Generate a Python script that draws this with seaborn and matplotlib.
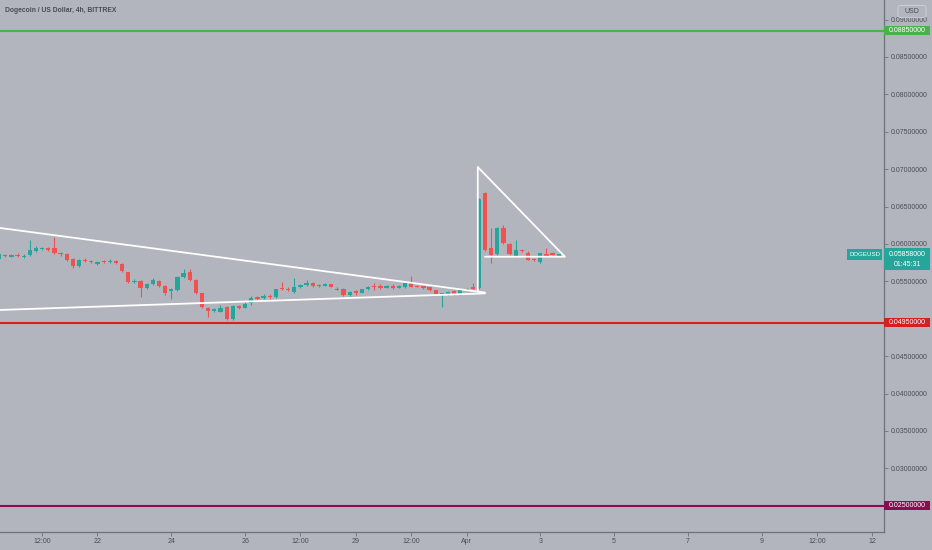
import numpy as np
import pandas as pd
import matplotlib
matplotlib.use("Agg")
import matplotlib.pyplot as plt
import matplotlib.transforms as mtrans
from matplotlib.patches import Rectangle, FancyBboxPatch
import seaborn as sns

# ---------------- data ----------------
title = "Dogecoin / US Dollar, 4h, BITTREX"
first_candle = "2021-03-19 08:00"
base_date = pd.Timestamp("2021-03-19 00:00")

opens = [0.05799, 0.05850, 0.05835, 0.05848, 0.05825, 0.05853, 0.05906, 0.05935, 0.05940, 0.05942,
         0.05880, 0.05862, 0.05795, 0.05710, 0.05790, 0.05775, 0.05745, 0.05770, 0.05760, 0.05773,
         0.05729, 0.05621, 0.05490, 0.05505, 0.05416, 0.05461, 0.05505, 0.05438, 0.05370, 0.05384,
         0.05563, 0.05621, 0.05519, 0.05340, 0.05140, 0.05110, 0.05096, 0.05154, 0.04995, 0.05172,
         0.05145, 0.05207, 0.05280, 0.05280, 0.05300, 0.05287, 0.05410, 0.05400, 0.05363, 0.05429,
         0.05452, 0.05474, 0.05450, 0.05450, 0.05460, 0.05400, 0.05394, 0.05318, 0.05360, 0.05349,
         0.05394, 0.05440, 0.05430, 0.05420, 0.05430, 0.05420, 0.05421, 0.05483, 0.05440, 0.05430,
         0.05421, 0.05385, 0.05330, 0.05332, 0.05372, 0.05332, 0.05390, 0.05420,
         0.05408,
         0.06678, 0.05942, 0.05866, 0.06218, 0.06000, 0.05840, 0.05920, 0.05884, 0.05800, 0.05755,
         0.05862, 0.05870, 0.05850]
highs = [0.05880, 0.05870, 0.05860, 0.05880, 0.05860, 0.06050, 0.05970, 0.05960, 0.05960, 0.06100,
         0.05890, 0.05880, 0.05810, 0.05800, 0.05810, 0.05790, 0.05770, 0.05790, 0.05800, 0.05790,
         0.05740, 0.05630, 0.05530, 0.05520, 0.05480, 0.05540, 0.05520, 0.05450, 0.05410, 0.05570,
         0.05666, 0.05660, 0.05530, 0.05350, 0.05160, 0.05150, 0.05180, 0.05170, 0.05190, 0.05190,
         0.05220, 0.05300, 0.05310, 0.05330, 0.05330, 0.05400, 0.05496, 0.05420, 0.05541, 0.05470,
         0.05519, 0.05490, 0.05460, 0.05480, 0.05470, 0.05430, 0.05410, 0.05370, 0.05380, 0.05400,
         0.05440, 0.05474, 0.05460, 0.05450, 0.05460, 0.05450, 0.05490, 0.05572, 0.05450, 0.05440,
         0.05430, 0.05390, 0.05350, 0.05370, 0.05380, 0.05390, 0.05410, 0.05474,
         0.06620,
         0.06700, 0.06210, 0.06230, 0.06254, 0.06010, 0.06053, 0.05930, 0.05900, 0.05810, 0.05880,
         0.05942, 0.05890, 0.05870]
lows = [0.05780, 0.05820, 0.05820, 0.05820, 0.05810, 0.05840, 0.05890, 0.05920, 0.05910, 0.05860,
        0.05840, 0.05770, 0.05680, 0.05690, 0.05760, 0.05750, 0.05720, 0.05740, 0.05750, 0.05730,
        0.05630, 0.05480, 0.05480, 0.05296, 0.05400, 0.05450, 0.05430, 0.05320, 0.05260, 0.05370,
        0.05550, 0.05500, 0.05330, 0.05140, 0.05028, 0.05090, 0.05090, 0.04990, 0.04985, 0.05130,
        0.05140, 0.05190, 0.05250, 0.05270, 0.05270, 0.05280, 0.05380, 0.05370, 0.05350, 0.05410,
        0.05440, 0.05430, 0.05430, 0.05440, 0.05420, 0.05380, 0.05300, 0.05310, 0.05320, 0.05340,
        0.05390, 0.05385, 0.05400, 0.05410, 0.05400, 0.05410, 0.05410, 0.05420, 0.05420, 0.05400,
        0.05370, 0.05320, 0.05162, 0.05320, 0.05320, 0.05320, 0.05380, 0.05400,
        0.05400,
        0.05900, 0.05742, 0.05850, 0.06000, 0.05850, 0.05830, 0.05890, 0.05780, 0.05770, 0.05750,
        0.05830, 0.05850, 0.05840]
closes = [0.05862, 0.05838, 0.05848, 0.05840, 0.05835, 0.05920, 0.05942, 0.05945, 0.05930, 0.05875,
          0.05865, 0.05786, 0.05710, 0.05786, 0.05775, 0.05762, 0.05752, 0.05760, 0.05770, 0.05746,
          0.05639, 0.05496, 0.05505, 0.05407, 0.05461, 0.05519, 0.05438, 0.05340, 0.05397, 0.05563,
          0.05617, 0.05519, 0.05340, 0.05154, 0.05108, 0.05130, 0.05150, 0.05001, 0.05172, 0.05145,
          0.05198, 0.05274, 0.05270, 0.05300, 0.05290, 0.05394, 0.05400, 0.05390, 0.05429, 0.05452,
          0.05483, 0.05439, 0.05440, 0.05460, 0.05429, 0.05390, 0.05318, 0.05363, 0.05350, 0.05394,
          0.05429, 0.05430, 0.05420, 0.05430, 0.05420, 0.05430, 0.05483, 0.05429, 0.05430, 0.05420,
          0.05385, 0.05332, 0.05340, 0.05363, 0.05332, 0.05385, 0.05400, 0.05410,
          0.06598,
          0.05920, 0.05853, 0.06218, 0.06009, 0.05862, 0.05920, 0.05900, 0.05786, 0.05786, 0.05875,
          0.05844, 0.05860, 0.05858]

level_prices = [0.0885, 0.0495, 0.0250]
level_labels = ["0.08850000", "0.04950000", "0.02500000"]
level_colors = ["#4caf50", "#d32020", "#880e4f"]

wedge_upper_dates = ["2021-03-19 00:00", "2021-04-01 12:00"]
wedge_upper_prices = [0.06238, 0.05350]
wedge_lower_dates = ["2021-03-19 00:00", "2021-04-01 12:00"]
wedge_lower_prices = [0.05112, 0.05340]
flag_dates = ["2021-04-01 07:20", "2021-04-01 07:20", "2021-04-03 16:00", "2021-04-01 12:00"]
flag_prices = [0.05370, 0.07029, 0.05830, 0.05830]

last_price = 0.05858
last_label = "0.05858000"
countdown = "01:45:31"
symbol = "DOGEUSD"

xtick_dates = ["2021-03-20 12:00", "2021-03-22 00:00", "2021-03-24 00:00", "2021-03-26 00:00",
               "2021-03-27 12:00", "2021-03-29 00:00", "2021-03-30 12:00", "2021-04-01 00:00",
               "2021-04-03 00:00", "2021-04-05 00:00", "2021-04-07 00:00", "2021-04-09 00:00",
               "2021-04-10 12:00", "2021-04-12 00:00"]
xtick_labels = ["12:00", "22", "24", "26", "12:00", "29", "12:00", "Apr", "3", "5", "7", "9",
                "12:00", "12"]
ytick_values = [0.025, 0.030, 0.035, 0.040, 0.045, 0.050, 0.055, 0.060, 0.065, 0.070,
                0.075, 0.080, 0.085, 0.090]
ytick_hidden = [0.025, 0.050]   # covered by the level labels in the reference

# ---------------- style ----------------
BG = "#b2b5bd"
AXC = "#6f727c"
TXT = "#4a4d57"
UP = "#26a69a"
DN = "#ef5350"

sns.set_theme(style="white", rc={"axes.facecolor": BG, "figure.facecolor": BG})
plt.rcParams["font.family"] = ["Liberation Sans", "DejaVu Sans"]

def to_days(s):
    return ((pd.to_datetime(pd.Series(list(s)), format="mixed") - base_date)
            / pd.Timedelta(days=1)).values

candle_times = pd.date_range(first_candle, periods=len(opens), freq="4h")
df = pd.DataFrame({"open": opens, "high": highs, "low": lows, "close": closes})
df["t"] = ((candle_times - base_date) / pd.Timedelta(days=1)).values
df["up"] = df["close"] >= df["open"]
df["color"] = np.where(df["up"], UP, DN)
df["height"] = (df["close"] - df["open"]).abs().clip(lower=0.0002)
df["bottom"] = (df["open"] + df["close"]) / 2 - df["height"] / 2

fig = plt.figure(figsize=(9.32, 5.5), dpi=100)
ax = fig.add_axes([0, 18 / 550, 884 / 932, 532 / 550])
ax.set_facecolor(BG)

# wicks and bodies
ax.vlines(df["t"], df["low"], df["high"], colors=df["color"], linewidth=0.8, zorder=2)
ax.bar(df["t"], df["height"], bottom=df["bottom"], width=0.115, color=df["color"],
       linewidth=0, zorder=3)

# horizontal levels
for p, c in zip(level_prices, level_colors):
    ax.axhline(p, color=c, linewidth=1.5, zorder=2.5)

# trend drawings
lines = [(wedge_upper_dates, wedge_upper_prices), (wedge_lower_dates, wedge_lower_prices),
         (flag_dates, flag_prices)]
for dts, prs in lines:
    sns.lineplot(x=to_days(dts), y=prs, ax=ax, color="white", linewidth=1.3,
                 sort=False, estimator=None, zorder=4)

# axes
x_left, x_right = 0.358, 24.314
ax.set_xlim(x_left, x_right)
ax.set_ylim(0.021497, 0.092620)
ax.yaxis.tick_right()
ax.set_yticks(ytick_values)
ax.set_yticklabels(["" if any(abs(v - h) < 1e-9 for h in ytick_hidden) else f"{v:.8f}"
                    for v in ytick_values])
ax.set_xticks(to_days(xtick_dates))
ax.set_xticklabels(xtick_labels)
ax.tick_params(axis="y", which="both", right=True, left=False, length=3, width=0.6,
               color=AXC, labelsize=5, labelcolor=TXT, pad=2)
ax.tick_params(axis="x", which="both", bottom=True, length=3, width=0.6, color=AXC,
               labelsize=5, labelcolor=TXT, pad=1.5)
for s in ["top", "left"]:
    ax.spines[s].set_visible(False)
for s in ["right", "bottom"]:
    ax.spines[s].set_visible(True)
    ax.spines[s].set_color(AXC)
    ax.spines[s].set_linewidth(0.9)
ax.grid(False)

blend = mtrans.blended_transform_factory(ax.transAxes, ax.transData)
px_y = (0.092620 - 0.021497) / 532.0
box_w = 46 / 884

# level labels on axis
for p, c, lab in zip(level_prices, level_colors, level_labels):
    ax.add_patch(Rectangle((1.0, p - 4.5 * px_y), box_w, 9 * px_y, transform=blend,
                           facecolor=c, edgecolor="none", clip_on=False, zorder=5))
    ax.text(1.0 + box_w / 2, p, lab, transform=blend, ha="center", va="center",
            fontsize=5, color="white", zorder=6, clip_on=False)

# last price box
ax.add_patch(Rectangle((1.0, last_price - 15.4 * px_y), box_w, 21.6 * px_y, transform=blend,
                       facecolor=UP, edgecolor="none", clip_on=False, zorder=5))
ax.text(1.0 + box_w / 2, last_price, last_label, transform=blend, ha="center", va="center",
        fontsize=5, color="white", zorder=6, clip_on=False)
ax.text(1.0 + box_w / 2, last_price - 10.2 * px_y, countdown, transform=blend, ha="center",
        va="center", fontsize=5, color="white", zorder=6, clip_on=False)
sym_w = 35 / 884
ax.add_patch(Rectangle((1.0 - sym_w - 2 / 884, last_price - 5.5 * px_y), sym_w, 11 * px_y,
                       transform=blend, facecolor=UP, edgecolor="none", clip_on=False, zorder=5))
ax.text(1.0 - sym_w / 2 - 2 / 884, last_price, symbol, transform=blend, ha="center",
        va="center", fontsize=4.4, color="white", zorder=6, clip_on=False)

# USD box
fig.patches.append(FancyBboxPatch((898 / 932, 1 - 17.5 / 550), 28 / 932, 12 / 550,
                                  boxstyle="round,pad=0,rounding_size=0.003",
                                  transform=fig.transFigure, facecolor=BG, edgecolor="#d0d3da",
                                  linewidth=0.6, zorder=10))
fig.text(912 / 932, 1 - 11.5 / 550, "USD", ha="center", va="center", fontsize=5,
         color=TXT, zorder=11)

# title
fig.text(5 / 932, 1 - 10.7 / 550, title, ha="left", va="center", fontsize=4.9,
         color=TXT, fontweight="bold")

fig.savefig("out.png", dpi=100, facecolor=BG)
